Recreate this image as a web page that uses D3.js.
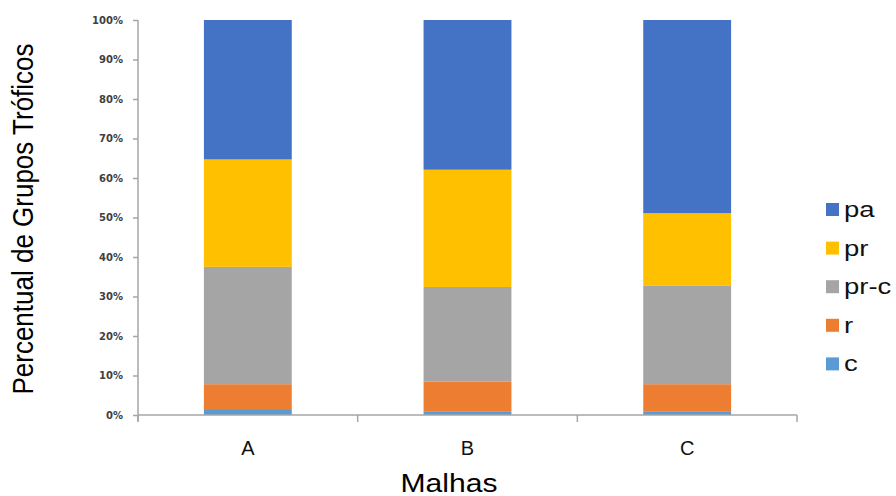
<!DOCTYPE html>
<html>
<head>
<meta charset="utf-8">
<script src="https://cdn.jsdelivr.net/npm/d3@7"></script>
<style>
  html, body { margin: 0; padding: 0; background: #fff; }
  svg { display: block; }
</style>
</head>
<body>
<svg id="chart" width="896" height="496"></svg>
<script>
// Trophic group composition per mesh (percent of total)
const categories = ["A", "B", "C"];
const seriesKeys = ["c", "r", "pr-c", "pr", "pa"];      // bottom to top
const legendOrder = ["pa", "pr", "pr-c", "r", "c"];
const cValues   = [1.5, 0.8, 0.8];
const rValues   = [6.3, 7.7, 7.0];
const prcValues = [29.7, 23.9, 25.0];
const prValues  = [27.2, 29.7, 18.3];
const paValues  = [35.3, 37.9, 48.9];
const yTicks = [0, 10, 20, 30, 40, 50, 60, 70, 80, 90, 100];
const colors = { "pa": "#4472C4", "pr": "#FFC000", "pr-c": "#A5A5A5", "r": "#ED7D31", "c": "#5B9BD5" };

const rows = categories.map((cat, i) => ({
  cat,
  "c": cValues[i], "r": rValues[i], "pr-c": prcValues[i], "pr": prValues[i], "pa": paValues[i]
}));

const svg = d3.select("#chart");
const plotLeft = 138, plotRight = 797, plotTop = 20, plotBottom = 415;

const x = d3.scaleBand().domain(categories).range([plotLeft, plotRight]).paddingInner(0.6).paddingOuter(0.3);
const y = d3.scaleLinear().domain([0, 100]).range([plotBottom, plotTop]);

const stacked = d3.stack().keys(seriesKeys)(rows);

// Bars
svg.append("g").selectAll("g")
  .data(stacked)
  .join("g")
  .attr("fill", d => colors[d.key])
  .selectAll("rect")
  .data(d => d)
  .join("rect")
  .attr("x", d => x(d.data.cat))
  .attr("width", x.bandwidth())
  .attr("y", d => y(d[1]))
  .attr("height", d => y(d[0]) - y(d[1]));

const axisColor = "#A6A6A6";

// Y axis
const yAxis = svg.append("g")
  .attr("transform", `translate(${plotLeft},0)`)
  .call(d3.axisLeft(y).tickValues(yTicks).tickFormat(d => d + "%").tickSize(5).tickPadding(10));
yAxis.select(".domain").attr("stroke", axisColor).attr("stroke-width", 1.5)
  .attr("d", `M0,${plotTop}V${plotBottom + 6}`);
yAxis.selectAll(".tick line").attr("stroke", axisColor).attr("stroke-width", 1.5);
yAxis.selectAll(".tick text")
  .attr("fill", "#404040")
  .style("font-family", "'DejaVu Sans', Verdana, sans-serif")
  .style("font-size", "10px")
  .style("font-weight", "bold");

// X axis: separators between categories
const xAxis = svg.append("g").attr("transform", `translate(0,${plotBottom})`);
xAxis.append("line")
  .attr("x1", plotLeft).attr("x2", plotRight)
  .attr("stroke", axisColor).attr("stroke-width", 1.5);
const boundaries = d3.range(categories.length + 1)
  .map(i => plotLeft + i * (plotRight - plotLeft) / categories.length);
xAxis.selectAll("line.sep")
  .data(boundaries)
  .join("line")
  .attr("class", "sep")
  .attr("x1", d => d).attr("x2", d => d)
  .attr("y1", 0).attr("y2", 7)
  .attr("stroke", axisColor).attr("stroke-width", 1.5);
xAxis.selectAll("text")
  .data(categories)
  .join("text")
  .attr("x", d => x(d) + x.bandwidth() / 2)
  .attr("y", 40)
  .attr("text-anchor", "middle")
  .attr("fill", "#111")
  .style("font-family", "'Liberation Sans', Arial, sans-serif")
  .style("font-size", "20px")
  .text(d => d);

// Axis titles
svg.append("text")
  .attr("x", 449)
  .attr("y", 492)
  .attr("text-anchor", "middle")
  .attr("fill", "#000")
  .attr("textLength", 97)
  .attr("lengthAdjust", "spacingAndGlyphs")
  .style("font-family", "'Liberation Sans', Arial, sans-serif")
  .style("font-size", "25px")
  .text("Malhas");

svg.append("text")
  .attr("transform", "translate(33,219) rotate(-90) scale(1,1.1)")
  .attr("text-anchor", "middle")
  .attr("fill", "#000")
  .style("font-family", "'Liberation Sans', Arial, sans-serif")
  .style("font-size", "26px")
  .text("Percentual de Grupos Tróficos");

// Legend
const legend = svg.append("g").attr("transform", "translate(826,203)");
const item = legend.selectAll("g")
  .data(legendOrder)
  .join("g")
  .attr("transform", (d, i) => `translate(0,${i * 38.6})`);
item.append("rect")
  .attr("width", 13).attr("height", 13)
  .attr("fill", d => colors[d]);
item.append("text")
  .attr("transform", "translate(18,14) scale(1.25,1)")
  .attr("fill", "#111")
  .style("font-family", "'Liberation Sans', Arial, sans-serif")
  .style("font-size", "22px")
  .text(d => d);
</script>
</body>
</html>
